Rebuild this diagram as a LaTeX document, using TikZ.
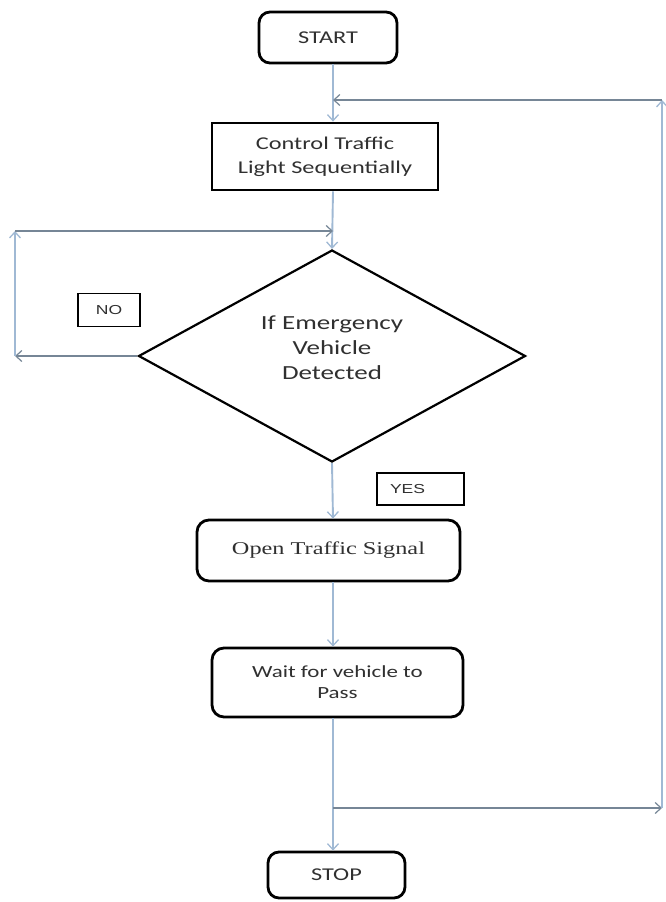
\documentclass[tikz,border=0pt]{standalone}
\usepackage{fontspec}
\usetikzlibrary{shapes.geometric,arrows.meta,calc}
\newfontfamily\calib[FakeStretch=1.35]{Carlito}
\newfontfamily\tms[FakeStretch=1.35]{Liberation Serif}
\newfontfamily\arl[FakeStretch=1.35]{Liberation Sans}
\definecolor{vline}{RGB}{160,185,212}
\definecolor{hline}{RGB}{118,134,150}
\definecolor{txt}{RGB}{48,48,48}
\begin{document}
\begin{tikzpicture}[x=1pt,y=-1pt,
  term/.style={draw=black,line width=2.8pt,rounded corners=11pt,inner sep=0pt,text=txt},
  procbox/.style={draw=black,line width=2.8pt,inner sep=0pt,text=txt},
  decis/.style={draw=black,line width=2.2pt,shape=diamond,aspect=1.83,inner sep=0pt,text=txt},
  tagbox/.style={draw=black,line width=1.2pt,inner sep=0pt,text=txt,font=\arl\fontsize{13}{15}\selectfont},
  vflow/.style={draw=vline,line width=1.9pt,-{Straight Barb[length=6pt,width=11pt,line width=1.3pt]}},
  hflow/.style={draw=hline,line width=1.2pt,-{Straight Barb[length=6pt,width=11pt,line width=1.2pt]}}
]
\useasboundingbox (0,0) rectangle (665,902);
\fill[white] (0,0) rectangle (665,902);
\coordinate (spine) at (333,0);

\node[term,minimum width=138pt,minimum height=51pt,font=\calib\fontsize{18}{22}\selectfont] (start) at (328,37.5) {START};
\node[procbox,minimum width=226pt,minimum height=67pt,align=center,font=\calib\fontsize{18}{24}\selectfont] (ctl) at (325,156.5) {Control Traffic\\Light Sequentially};
\node[decis,minimum width=387pt,minimum height=212pt,font=\calib\fontsize{20}{25}\selectfont] (dia) at (332,356) {\raisebox{0pt}[\height][\dimexpr\depth+14pt\relax]{\begin{tabular}{@{}c@{}}If Emergency\\Vehicle\\Detected\end{tabular}}};
\node[term,rounded corners=12pt,minimum width=263pt,minimum height=61pt,font=\tms\fontsize{18}{22}\selectfont] (open) at (328.5,550.5) {Open Traffic Signal};
\node[term,rounded corners=12pt,minimum width=251pt,minimum height=69pt,align=center,font=\calib\fontsize{17}{21}\selectfont] (wait) at (337.5,682.5) {Wait for vehicle to\\Pass};
\node[term,minimum width=137pt,minimum height=46pt,font=\calib\fontsize{18}{22}\selectfont] (stop) at (336.5,875) {STOP};

\node[tagbox,minimum width=62pt,minimum height=33pt] (no) at (109,310) {NO};
\node[tagbox,minimum width=87pt,minimum height=32pt,text width=61pt,inner xsep=13pt,align=left] (yes) at (420.5,489) {YES};

% main flow
\draw[vflow] (start.south -| spine) -- (ctl.north -| spine);
\draw[vflow] (ctl.south -| spine) -- (dia.north);
\draw[vflow] (dia.south) -- (open.north -| spine);
\draw[vflow] (open.south -| spine) -- (wait.north -| spine);
\draw[vflow] (wait.south -| spine) -- (stop.north -| spine);

% NO loop
\coordinate (nl) at (15,356);
\coordinate (nt) at (15,231);
\coordinate (nj) at (333,231);
\draw[hflow] (dia.west) -- (nl);
\draw[vflow] (nl) -- (nt);
\draw[hflow] (nt) -- (nj);

% return loop
\coordinate (rj) at (333,808);
\coordinate (rb) at (662,808);
\coordinate (rt) at (662,100);
\coordinate (tj) at (333,100);
\draw[hflow] (rj) -- (rb);
\draw[vflow] (rb) -- (rt);
\draw[hflow] (rt) -- (tj);
\end{tikzpicture}
\end{document}
